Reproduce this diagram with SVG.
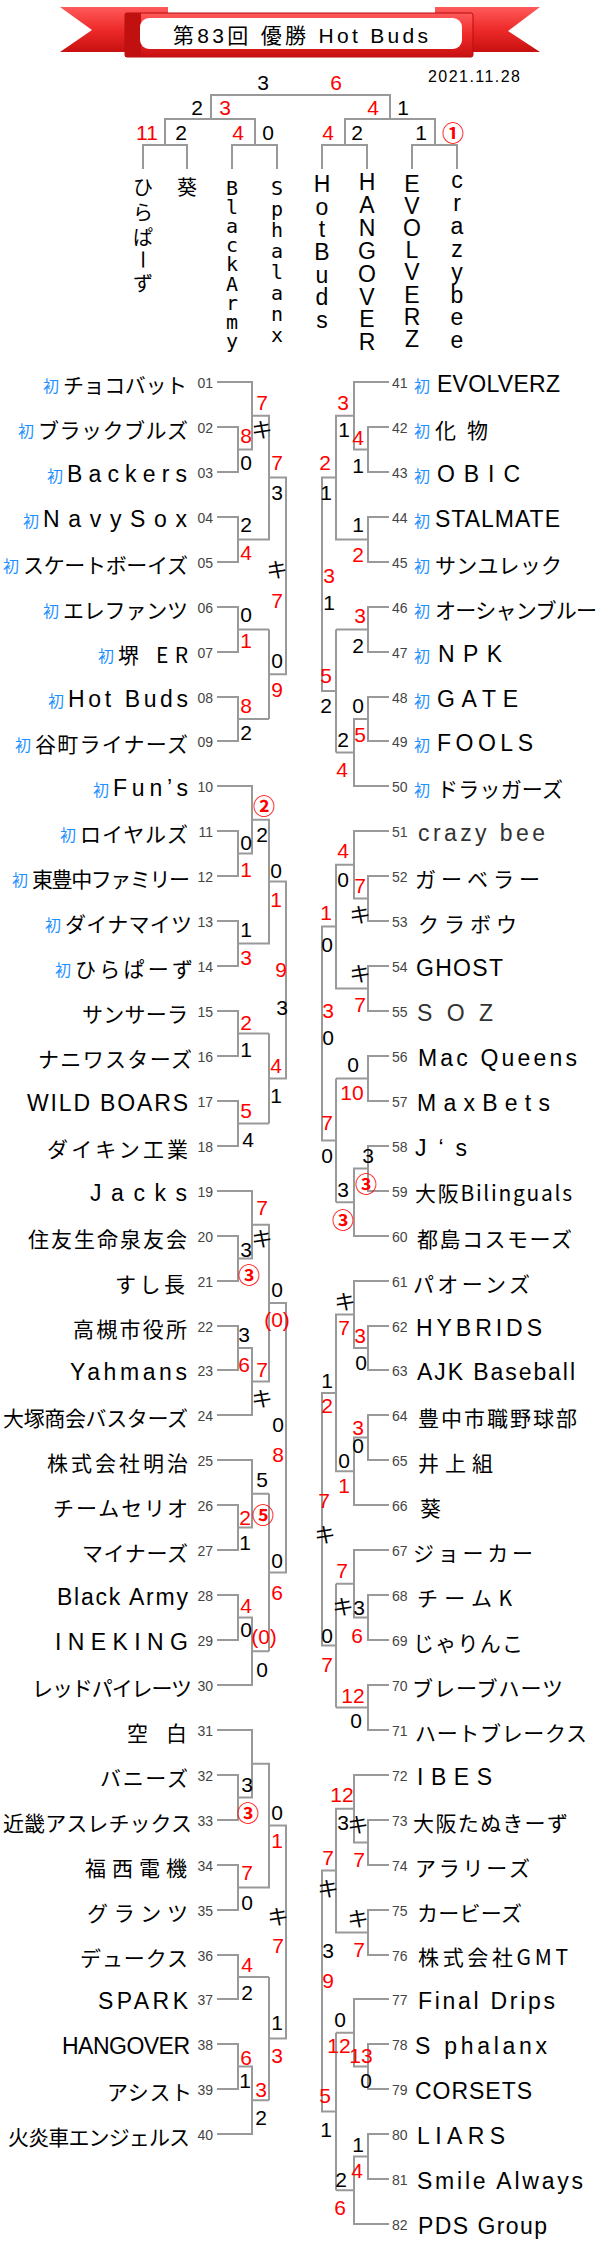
<svg xmlns="http://www.w3.org/2000/svg" width="600" height="2250" viewBox="0 0 600 2250">
<defs>
<linearGradient id="rg" x1="0" y1="0" x2="0" y2="1">
<stop offset="0" stop-color="#ff5a5a"/><stop offset="0.5" stop-color="#ee2a2a"/><stop offset="1" stop-color="#c81010"/>
</linearGradient>
<style>
.ln{fill:none;stroke:#999;stroke-width:2}
.s{font-family:"Liberation Sans","Noto Sans CJK JP",sans-serif;font-size:21px;text-anchor:middle}
.r{fill:#f00}
.k{fill:#000}
.ci{font-family:"Noto Sans CJK JP",sans-serif;font-size:22px;font-weight:700}
.no{font-family:"Liberation Sans",sans-serif;font-size:14px;fill:#444}
.nl{text-anchor:end}
.sh{font-family:"Noto Sans CJK JP",sans-serif;font-size:16px;fill:#1e90ff}
.shl{text-anchor:end}
.c{font-family:"Noto Sans CJK JP","Liberation Sans",sans-serif;font-size:21px;fill:#000}
.a{font-family:"Liberation Sans","Noto Sans CJK JP",sans-serif;font-size:23px;fill:#000}
.g{fill:#333}
.vn{font-family:"Liberation Sans","Noto Sans CJK JP",sans-serif;font-size:23px;text-anchor:middle;fill:#000}
.vm{font-family:"DejaVu Sans Mono","Liberation Mono",monospace;font-size:20px;text-anchor:middle;fill:#000}
.vc{font-family:"Noto Sans CJK JP",sans-serif;font-size:20px;fill:#000}
</style>
</defs>
<rect width="600" height="2250" fill="#fff"/>
<g id="header">
<polygon points="60,7 168,7 168,52 60,52 92,30" fill="url(#rg)"/>
<polygon points="435,7 540,7 508,31 540,52 435,52" fill="url(#rg)"/>
<rect x="125" y="13" width="348" height="44" rx="2" fill="url(#rg)" stroke="#b80e0e" stroke-width="1"/>
<rect x="125" y="13" width="16" height="44" fill="#c01010"/>
<rect x="140" y="18" width="322" height="31" rx="9" fill="#fff"/>
<text x="173" y="43" font-family="Liberation Sans,Noto Sans CJK JP,sans-serif" font-size="21" textLength="255" lengthAdjust="spacing" fill="#000">第83回 優勝 Hot Buds</text>
<text x="428" y="82" font-family="Liberation Sans,sans-serif" font-size="16" textLength="92" lengthAdjust="spacing" fill="#000">2021.11.28</text>
</g>
<g id="connectors" class="ln">
<path d="M211 119V95H390V119M165 145V119H255V145M345 145V119H435V145M143 169V145H187V169M232 169V145H277V169M322 169V145H367V169M412 169V145H457V169"/>
<path d="M217 382H252V449.5H238M217 427H238V472H217M252 415.75H269V539.5H238M217 517H238V562H217M269 477.6H286V674.25H269M269 629.5V719M217 607H238V652H217M238 629.5H269M217 697H238V741H217M238 719H269"/>
<path d="M217 786H252V853.5H238M217 831H238V876H217M252 819.75H269V943.5H238M217 921H238V966H217M269 881.6H286V1078.5H269M269 1033.5V1123.5M217 1011H238V1056H217M238 1033.5H269M217 1101H238V1146H217M238 1123.5H269"/>
<path d="M217 1191H252V1258.5H238M217 1236H238V1281H217M252 1224.75H269V1381.5H252M217 1326H238V1370H217M238 1348H252V1415H217M269 1303.1H286V1572.5H269M269 1493.75V1651.25M217 1460H252V1527.5H238M217 1505H238V1550H217M252 1493.75H269M217 1595H238V1640H217M238 1617.5H252V1685H217M252 1651.25H269"/>
<path d="M217 1730H252V1797.5H238M217 1775H238V1820H217M252 1763.75H269V1887.5H238M217 1865H238V1910H217M269 1825.6H286V2038.6H269M269 1977V2100.25M217 1955H238V1999H217M238 1977H269M217 2044H238V2089H217M238 2066.5H252V2134H217M252 2100.25H269"/>
<path d="M389 382H354V449.5H368M389 427H368V472H389M354 415.75H336V539.5H368M389 517H368V562H389M336 477.6H322V691H336M336 629.5V752.5M389 607H368V652H389M368 629.5H336M389 697H368V741H389M368 719H354V786H389M354 752.5H336"/>
<path d="M389 831H354V898.5H368M389 876H368V921H389M354 864.75H336V988.5H368M389 966H368V1011H389M336 926.6H322V1140.4H336M336 1078.5V1202.25M389 1056H368V1101H389M368 1078.5H336M389 1146H368V1191H389M368 1168.5H354V1236H389M354 1202.25H336"/>
<path d="M389 1281H354V1348H368M389 1326H368V1370H389M354 1314.5H336V1471.25H354M389 1415H368V1460H389M368 1437.5H354V1505H389M336 1392.9H322V1645.6H336M336 1583.75V1707.5M389 1550H354V1617.5H368M389 1595H368V1640H389M354 1583.75H336M389 1685H368V1730H389M368 1707.5H336"/>
<path d="M389 1775H354V1842.5H368M389 1820H368V1865H389M354 1808.75H336V1932.5H368M389 1910H368V1955H389M336 1870.6H322V2111.5H336M336 2032.75V2190.25M389 1999H354V2066.5H368M389 2044H368V2089H389M354 2032.75H336M389 2134H368V2179H389M368 2156.5H354V2224H389M354 2190.25H336"/>
</g>
<g id="scores" class="s">
<text class="k" x="263" y="90">3</text><text class="r" x="336" y="90">6</text>
<text class="k" x="197" y="115">2</text><text class="r" x="225" y="115">3</text>
<text class="r" x="373" y="115">4</text><text class="k" x="403" y="115">1</text>
<text class="r" x="147" y="140">11</text><text class="k" x="181" y="140">2</text>
<text class="r" x="238" y="140">4</text><text class="k" x="268" y="140">0</text>
<text class="r" x="328" y="140">4</text><text class="k" x="357" y="140">2</text>
<text class="k" x="421" y="140">1</text><text class="r ci" x="453" y="141">①</text>

<text class="r" x="246" y="443">8</text><text class="k" x="246" y="470">0</text>
<text class="r" x="262" y="410">7</text><text class="k" x="262" y="437">キ</text>
<text class="k" x="246" y="532">2</text><text class="r" x="246" y="560">4</text>
<text class="r" x="277" y="470">7</text><text class="k" x="277" y="500">3</text>
<text class="k" x="246" y="622">0</text><text class="r" x="246" y="648">1</text>
<text class="r" x="246" y="713">8</text><text class="k" x="246" y="740">2</text>
<text class="k" x="277" y="668">0</text><text class="r" x="277" y="697">9</text>
<text class="k" x="277" y="577">キ</text><text class="r" x="277" y="608">7</text>

<text class="k" x="246" y="850">0</text><text class="r" x="246" y="877">1</text>
<text class="r ci" x="264" y="814">②</text><text class="k" x="262" y="842">2</text>
<text class="k" x="246" y="937">1</text><text class="r" x="246" y="965">3</text>
<text class="k" x="276" y="878">0</text><text class="r" x="276" y="907">1</text>
<text class="r" x="246" y="1030">2</text><text class="k" x="246" y="1057">1</text>
<text class="r" x="246" y="1118">5</text><text class="k" x="248" y="1147">4</text>
<text class="r" x="276" y="1073">4</text><text class="k" x="276" y="1103">1</text>
<text class="r" x="281" y="977">9</text><text class="k" x="282" y="1015">3</text>

<text class="k" x="246" y="1257">3</text><text class="r ci" x="249" y="1283">③</text>
<text class="r" x="262" y="1215">7</text><text class="k" x="262" y="1246">キ</text>
<text class="k" x="244" y="1342">3</text><text class="r" x="244" y="1372">6</text>
<text class="r" x="262" y="1377">7</text><text class="k" x="262" y="1406">キ</text>
<text class="k" x="277" y="1297">0</text><text class="r" x="277" y="1327">(0)</text>
<text class="r" x="245" y="1525">2</text><text class="k" x="245" y="1550">1</text>
<text class="k" x="262" y="1487">5</text><text class="r ci" x="263" y="1523">⑤</text>
<text class="r" x="246" y="1613">4</text><text class="k" x="246" y="1637">0</text>
<text class="r" x="264" y="1644">(0)</text><text class="k" x="262" y="1677">0</text>
<text class="k" x="277" y="1568">0</text><text class="r" x="277" y="1600">6</text>
<text class="k" x="278" y="1432">0</text><text class="r" x="278" y="1462">8</text>

<text class="k" x="247" y="1792">3</text><text class="r ci" x="248" y="1821">③</text>
<text class="r" x="247" y="1880">7</text><text class="k" x="247" y="1910">0</text>
<text class="k" x="277" y="1820">0</text><text class="r" x="277" y="1848">1</text>
<text class="r" x="247" y="1972">4</text><text class="k" x="247" y="2000">2</text>
<text class="r" x="246" y="2065">6</text><text class="k" x="245" y="2088">1</text>
<text class="r" x="261" y="2097">3</text><text class="k" x="261" y="2125">2</text>
<text class="k" x="277" y="2030">1</text><text class="r" x="277" y="2063">3</text>
<text class="k" x="278" y="1924">キ</text><text class="r" x="278" y="1953">7</text>

<text class="r" x="358" y="445">4</text><text class="k" x="358" y="473">1</text>
<text class="r" x="343" y="410">3</text><text class="k" x="344" y="437">1</text>
<text class="k" x="358" y="532">1</text><text class="r" x="358" y="562">2</text>
<text class="r" x="325" y="470">2</text><text class="k" x="326" y="500">1</text>
<text class="r" x="360" y="623">3</text><text class="k" x="358" y="653">2</text>
<text class="k" x="358" y="713">0</text><text class="r" x="360" y="742">5</text>
<text class="k" x="343" y="747">2</text><text class="r" x="342" y="777">4</text>
<text class="r" x="326" y="683">5</text><text class="k" x="326" y="713">2</text>
<text class="r" x="329" y="583">3</text><text class="k" x="329" y="610">1</text>

<text class="r" x="360" y="893">7</text><text class="k" x="360" y="922">キ</text>
<text class="r" x="343" y="858">4</text><text class="k" x="343" y="887">0</text>
<text class="k" x="360" y="981">キ</text><text class="r" x="360" y="1012">7</text>
<text class="r" x="326" y="920">1</text><text class="k" x="327" y="952">0</text>
<text class="k" x="353" y="1072">0</text><text class="r" x="352" y="1100">10</text>
<text class="k" x="368" y="1163">3</text><text class="r ci" x="366" y="1192">③</text>
<text class="k" x="343" y="1197">3</text><text class="r ci" x="343" y="1228">③</text>
<text class="r" x="327" y="1130">7</text><text class="k" x="327" y="1163">0</text>
<text class="r" x="328" y="1018">3</text><text class="k" x="328" y="1045">0</text>

<text class="r" x="360" y="1343">3</text><text class="k" x="361" y="1370">0</text>
<text class="k" x="345" y="1309">キ</text><text class="r" x="344" y="1335">7</text>
<text class="r" x="358" y="1435">3</text><text class="k" x="358" y="1453">0</text>
<text class="k" x="344" y="1468">0</text><text class="r" x="344" y="1493">1</text>
<text class="k" x="327" y="1388">1</text><text class="r" x="327" y="1413">2</text>
<text class="k" x="359" y="1615">3</text><text class="r" x="357" y="1643">6</text>
<text class="r" x="342" y="1578">7</text><text class="k" x="343" y="1614">キ</text>
<text class="r" x="353" y="1703">12</text><text class="k" x="356" y="1728">0</text>
<text class="k" x="327" y="1643">0</text><text class="r" x="327" y="1672">7</text>
<text class="r" x="324" y="1508">7</text><text class="k" x="325" y="1542">キ</text>

<text class="k" x="358" y="1832">キ</text><text class="r" x="359" y="1867">7</text>
<text class="r" x="342" y="1802">12</text><text class="k" x="343" y="1830">3</text>
<text class="k" x="358" y="1926">キ</text><text class="r" x="359" y="1957">7</text>
<text class="r" x="328" y="1865">7</text><text class="k" x="328" y="1896">キ</text>
<text class="r" x="361" y="2063">13</text><text class="k" x="366" y="2088">0</text>
<text class="k" x="340" y="2027">0</text><text class="r" x="339" y="2053">12</text>
<text class="k" x="358" y="2152">1</text><text class="r" x="357" y="2178">4</text>
<text class="k" x="341" y="2187">2</text><text class="r" x="340" y="2215">6</text>
<text class="r" x="325" y="2103">5</text><text class="k" x="326" y="2137">1</text>
<text class="k" x="328" y="1958">3</text><text class="r" x="328" y="1988">9</text>
</g>
<g id="f-hirapa"><text class="vc"><tspan x="133" y="195">ひ</tspan><tspan x="133" y="220">ら</tspan><tspan x="133" y="245">ぱ</tspan><tspan x="135.4" y="249.5" rotate="90">ー</tspan><tspan x="133" y="291">ず</tspan></text></g>
<g id="f-aoi"><text class="vc" x="187" y="195" text-anchor="middle">葵</text></g>
<g id="f-blackarmy"><text class="vm" x="232"><tspan x="232" y="195">B</tspan><tspan x="232" y="214">l</tspan><tspan x="232" y="233">a</tspan><tspan x="232" y="252">c</tspan><tspan x="232" y="271">k</tspan><tspan x="232" y="291">A</tspan><tspan x="232" y="310">r</tspan><tspan x="232" y="329">m</tspan><tspan x="232" y="348">y</tspan></text></g>
<g id="f-sphalanx"><text class="vm" x="277"><tspan x="277" y="195">S</tspan><tspan x="277" y="216">p</tspan><tspan x="277" y="237">h</tspan><tspan x="277" y="258">a</tspan><tspan x="277" y="279">l</tspan><tspan x="277" y="300">a</tspan><tspan x="277" y="321">n</tspan><tspan x="277" y="342">x</tspan></text></g>
<g id="f-hotbuds"><text class="vn" x="322"><tspan x="322" y="192">H</tspan><tspan x="322" y="215">o</tspan><tspan x="322" y="237">t</tspan><tspan x="322" y="260">B</tspan><tspan x="322" y="283">u</tspan><tspan x="322" y="305">d</tspan><tspan x="322" y="328">s</tspan></text></g>
<g id="f-hangover"><text class="vn" x="367"><tspan x="367" y="190">H</tspan><tspan x="367" y="213">A</tspan><tspan x="367" y="236">N</tspan><tspan x="367" y="259">G</tspan><tspan x="367" y="282">O</tspan><tspan x="367" y="305">V</tspan><tspan x="367" y="327">E</tspan><tspan x="367" y="350">R</tspan></text></g>
<g id="f-evolverz"><text class="vn" x="412"><tspan x="412" y="192">E</tspan><tspan x="412" y="214">V</tspan><tspan x="412" y="236">O</tspan><tspan x="412" y="258">L</tspan><tspan x="412" y="280">V</tspan><tspan x="412" y="303">E</tspan><tspan x="412" y="325">R</tspan><tspan x="412" y="347">Z</tspan></text></g>
<g id="f-crazybee"><text class="vn g" x="457"><tspan x="457" y="188">c</tspan><tspan x="457" y="211">r</tspan><tspan x="457" y="234">a</tspan><tspan x="457" y="257">z</tspan><tspan x="457" y="280">y</tspan><tspan x="457" y="303">b</tspan><tspan x="457" y="325">e</tspan><tspan x="457" y="348">e</tspan></text></g>

<g id="t01"><text class="no nl" x="213" y="388">01</text><text class="sh shl" x="59" y="392">初</text><text class="c" x="63" y="393" textLength="124" lengthAdjust="spacing">チョコバット</text></g>
<g id="t02"><text class="no nl" x="213" y="433">02</text><text class="sh shl" x="34" y="437">初</text><text class="c" x="38" y="438" textLength="150" lengthAdjust="spacing">ブラックブルズ</text></g>
<g id="t03"><text class="no nl" x="213" y="478">03</text><text class="sh shl" x="63" y="482">初</text><text class="a" x="67" y="482" textLength="120" lengthAdjust="spacing">Backers</text></g>
<g id="t04"><text class="no nl" x="213" y="523">04</text><text class="sh shl" x="39" y="527">初</text><text class="a" x="43" y="527" textLength="144" lengthAdjust="spacing">NavySox</text></g>
<g id="t05"><text class="no nl" x="213" y="568">05</text><text class="sh shl" x="19" y="572">初</text><text class="c" x="23" y="573" textLength="165" lengthAdjust="spacing">スケートボーイズ</text></g>
<g id="t06"><text class="no nl" x="213" y="613">06</text><text class="sh shl" x="59" y="617">初</text><text class="c" x="63" y="618" textLength="125" lengthAdjust="spacing">エレファンツ</text></g>
<g id="t07"><text class="no nl" x="213" y="658">07</text><text class="sh shl" x="114" y="662">初</text><text class="c" x="118" y="663" textLength="70" lengthAdjust="spacing">堺 ER</text></g>
<g id="t08"><text class="no nl" x="213" y="703">08</text><text class="sh shl" x="64" y="707">初</text><text class="a" x="68" y="707" textLength="120" lengthAdjust="spacing">Hot Buds</text></g>
<g id="t09"><text class="no nl" x="213" y="747">09</text><text class="sh shl" x="31" y="751">初</text><text class="c" x="35" y="752" textLength="153" lengthAdjust="spacing">谷町ライナーズ</text></g>
<g id="t10"><text class="no nl" x="213" y="792">10</text><text class="sh shl" x="109" y="796">初</text><text class="a" x="113" y="796" textLength="75" lengthAdjust="spacing">Fun’s</text></g>
<g id="t11"><text class="no nl" x="213" y="837">11</text><text class="sh shl" x="76" y="841">初</text><text class="c" x="80" y="842" textLength="108" lengthAdjust="spacing">ロイヤルズ</text></g>
<g id="t12"><text class="no nl" x="213" y="882">12</text><text class="sh shl" x="28" y="886">初</text><text class="c" x="32" y="887" textLength="158" lengthAdjust="spacing">東豊中ファミリー</text></g>
<g id="t13"><text class="no nl" x="213" y="927">13</text><text class="sh shl" x="61" y="931">初</text><text class="c" x="65" y="932" textLength="127" lengthAdjust="spacing">ダイナマイツ</text></g>
<g id="t14"><text class="no nl" x="213" y="972">14</text><text class="sh shl" x="71" y="976">初</text><text class="c" x="75" y="977" textLength="118" lengthAdjust="spacing">ひらぱーず</text></g>
<g id="t15"><text class="no nl" x="213" y="1017">15</text><text class="c" x="82" y="1022" textLength="106" lengthAdjust="spacing">サンサーラ</text></g>
<g id="t16"><text class="no nl" x="213" y="1062">16</text><text class="c" x="38" y="1067" textLength="154" lengthAdjust="spacing">ナニワスターズ</text></g>
<g id="t17"><text class="no nl" x="213" y="1107">17</text><text class="a" x="27" y="1111" textLength="161" lengthAdjust="spacing">WILD BOARS</text></g>
<g id="t18"><text class="no nl" x="213" y="1152">18</text><text class="c" x="47" y="1157" textLength="141" lengthAdjust="spacing">ダイキン工業</text></g>
<g id="t19"><text class="no nl" x="213" y="1197">19</text><text class="a" x="90" y="1201" textLength="97" lengthAdjust="spacing">Jacks</text></g>
<g id="t20"><text class="no nl" x="213" y="1242">20</text><text class="c" x="28" y="1247" textLength="159" lengthAdjust="spacing">住友生命泉友会</text></g>
<g id="t21"><text class="no nl" x="213" y="1287">21</text><text class="c" x="115" y="1292" textLength="70" lengthAdjust="spacing">すし長</text></g>
<g id="t22"><text class="no nl" x="213" y="1332">22</text><text class="c" x="73" y="1337" textLength="114" lengthAdjust="spacing">高槻市役所</text></g>
<g id="t23"><text class="no nl" x="213" y="1376">23</text><text class="a" x="70" y="1380" textLength="117" lengthAdjust="spacing">Yahmans</text></g>
<g id="t24"><text class="no nl" x="213" y="1421">24</text><text class="c" x="3" y="1426" textLength="185" lengthAdjust="spacing">大塚商会バスターズ</text></g>
<g id="t25"><text class="no nl" x="213" y="1466">25</text><text class="c" x="47" y="1471" textLength="141" lengthAdjust="spacing">株式会社明治</text></g>
<g id="t26"><text class="no nl" x="213" y="1511">26</text><text class="c" x="53" y="1516" textLength="135" lengthAdjust="spacing">チームセリオ</text></g>
<g id="t27"><text class="no nl" x="213" y="1556">27</text><text class="c" x="82" y="1561" textLength="106" lengthAdjust="spacing">マイナーズ</text></g>
<g id="t28"><text class="no nl" x="213" y="1601">28</text><text class="a" x="57" y="1605" textLength="131" lengthAdjust="spacing">Black Army</text></g>
<g id="t29"><text class="no nl" x="213" y="1646">29</text><text class="a" x="55" y="1650" textLength="133" lengthAdjust="spacing">INEKING</text></g>
<g id="t30"><text class="no nl" x="213" y="1691">30</text><text class="c" x="32" y="1696" textLength="160" lengthAdjust="spacing">レッドパイレーツ</text></g>
<g id="t31"><text class="no nl" x="213" y="1736">31</text><text class="c" x="127" y="1741" textLength="60" lengthAdjust="spacing">空 白</text></g>
<g id="t32"><text class="no nl" x="213" y="1781">32</text><text class="c" x="100" y="1786" textLength="88" lengthAdjust="spacing">バニーズ</text></g>
<g id="t33"><text class="no nl" x="213" y="1826">33</text><text class="c" x="3" y="1831" textLength="189" lengthAdjust="spacing">近畿アスレチックス</text></g>
<g id="t34"><text class="no nl" x="213" y="1871">34</text><text class="c" x="85" y="1876" textLength="102" lengthAdjust="spacing">福西電機</text></g>
<g id="t35"><text class="no nl" x="213" y="1916">35</text><text class="c" x="87" y="1921" textLength="101" lengthAdjust="spacing">グランツ</text></g>
<g id="t36"><text class="no nl" x="213" y="1961">36</text><text class="c" x="80" y="1966" textLength="108" lengthAdjust="spacing">デュークス</text></g>
<g id="t37"><text class="no nl" x="213" y="2005">37</text><text class="a" x="98" y="2009" textLength="90" lengthAdjust="spacing">SPARK</text></g>
<g id="t38"><text class="no nl" x="213" y="2050">38</text><text class="a" x="62" y="2054" textLength="128" lengthAdjust="spacing">HANGOVER</text></g>
<g id="t39"><text class="no nl" x="213" y="2095">39</text><text class="c" x="107" y="2100" textLength="85" lengthAdjust="spacing">アシスト</text></g>
<g id="t40"><text class="no nl" x="213" y="2140">40</text><text class="c" x="8" y="2145" textLength="182" lengthAdjust="spacing">火炎車エンジェルス</text></g>

<g id="t41"><text class="no" x="392" y="388">41</text><text class="sh" x="414" y="392">初</text><text class="a" x="437" y="392" textLength="123" lengthAdjust="spacing">EVOLVERZ</text></g>
<g id="t42"><text class="no" x="392" y="433">42</text><text class="sh" x="414" y="437">初</text><text class="c" x="435" y="438" textLength="53" lengthAdjust="spacing">化 物</text></g>
<g id="t43"><text class="no" x="392" y="478">43</text><text class="sh" x="414" y="482">初</text><text class="a" x="437" y="482" textLength="83" lengthAdjust="spacing">OBIC</text></g>
<g id="t44"><text class="no" x="392" y="523">44</text><text class="sh" x="414" y="527">初</text><text class="a" x="435" y="527" textLength="125" lengthAdjust="spacing">STALMATE</text></g>
<g id="t45"><text class="no" x="392" y="568">45</text><text class="sh" x="414" y="572">初</text><text class="c" x="435" y="573" textLength="127" lengthAdjust="spacing">サンユレック</text></g>
<g id="t46"><text class="no" x="392" y="613">46</text><text class="sh" x="414" y="617">初</text><text class="c" x="435" y="618" textLength="162" lengthAdjust="spacing">オーシャンブルー</text></g>
<g id="t47"><text class="no" x="392" y="658">47</text><text class="sh" x="414" y="662">初</text><text class="a" x="438" y="662" textLength="64" lengthAdjust="spacing">NPK</text></g>
<g id="t48"><text class="no" x="392" y="703">48</text><text class="sh" x="414" y="707">初</text><text class="a" x="437" y="707" textLength="81" lengthAdjust="spacing">GATE</text></g>
<g id="t49"><text class="no" x="392" y="747">49</text><text class="sh" x="414" y="751">初</text><text class="a" x="437" y="751" textLength="96" lengthAdjust="spacing">FOOLS</text></g>
<g id="t50"><text class="no" x="392" y="792">50</text><text class="sh" x="414" y="796">初</text><text class="c" x="437" y="797" textLength="126" lengthAdjust="spacing">ドラッガーズ</text></g>
<g id="t51"><text class="no" x="392" y="837">51</text><text class="a g" x="418" y="841" textLength="127" lengthAdjust="spacing">crazy bee</text></g>
<g id="t52"><text class="no" x="392" y="882">52</text><text class="c" x="415" y="887" textLength="125" lengthAdjust="spacing">ガーベラー</text></g>
<g id="t53"><text class="no" x="392" y="927">53</text><text class="c" x="418" y="932" textLength="99" lengthAdjust="spacing">クラボウ</text></g>
<g id="t54"><text class="no" x="392" y="972">54</text><text class="a" x="416" y="976" textLength="87" lengthAdjust="spacing">GHOST</text></g>
<g id="t55"><text class="no" x="392" y="1017">55</text><text class="a g" x="417" y="1021" textLength="76" lengthAdjust="spacing">SOZ</text></g>
<g id="t56"><text class="no" x="392" y="1062">56</text><text class="a" x="418" y="1066" textLength="159" lengthAdjust="spacing">Mac Queens</text></g>
<g id="t57"><text class="no" x="392" y="1107">57</text><text class="a" x="417" y="1111" textLength="133" lengthAdjust="spacing">MaxBets</text></g>
<g id="t58"><text class="no" x="392" y="1152">58</text><text class="a" x="415" y="1156" textLength="52" lengthAdjust="spacing">J‘s</text></g>
<g id="t59"><text class="no" x="392" y="1197">59</text><text class="c" x="415" y="1201" textLength="157" lengthAdjust="spacing">大阪Bilinguals</text></g>
<g id="t60"><text class="no" x="392" y="1242">60</text><text class="c" x="417" y="1247" textLength="155" lengthAdjust="spacing">都島コスモーズ</text></g>
<g id="t61"><text class="no" x="392" y="1287">61</text><text class="c" x="413" y="1292" textLength="117" lengthAdjust="spacing">パオーンズ</text></g>
<g id="t62"><text class="no" x="392" y="1332">62</text><text class="a" x="416" y="1336" textLength="126" lengthAdjust="spacing">HYBRIDS</text></g>
<g id="t63"><text class="no" x="392" y="1376">63</text><text class="a" x="417" y="1380" textLength="158" lengthAdjust="spacing">AJK Baseball</text></g>
<g id="t64"><text class="no" x="392" y="1421">64</text><text class="c" x="418" y="1426" textLength="159" lengthAdjust="spacing">豊中市職野球部</text></g>
<g id="t65"><text class="no" x="392" y="1466">65</text><text class="c" x="418" y="1471" textLength="75" lengthAdjust="spacing">井 上 組</text></g>
<g id="t66"><text class="no" x="392" y="1511">66</text><text class="c" x="420" y="1516">葵</text></g>
<g id="t67"><text class="no" x="392" y="1556">67</text><text class="c" x="413" y="1561" textLength="120" lengthAdjust="spacing">ジョーカー</text></g>
<g id="t68"><text class="no" x="392" y="1601">68</text><text class="c" x="417" y="1606" textLength="95" lengthAdjust="spacing">チームK</text></g>
<g id="t69"><text class="no" x="392" y="1646">69</text><text class="c" x="413" y="1651" textLength="110" lengthAdjust="spacing">じゃりんこ</text></g>
<g id="t70"><text class="no" x="392" y="1691">70</text><text class="c" x="412" y="1696" textLength="151" lengthAdjust="spacing">ブレーブハーツ</text></g>
<g id="t71"><text class="no" x="392" y="1736">71</text><text class="c" x="415" y="1741" textLength="172" lengthAdjust="spacing">ハートブレークス</text></g>
<g id="t72"><text class="no" x="392" y="1781">72</text><text class="a" x="417" y="1785" textLength="75" lengthAdjust="spacing">IBES</text></g>
<g id="t73"><text class="no" x="392" y="1826">73</text><text class="c" x="413" y="1831" textLength="155" lengthAdjust="spacing">大阪たぬきーず</text></g>
<g id="t74"><text class="no" x="392" y="1871">74</text><text class="c" x="415" y="1876" textLength="115" lengthAdjust="spacing">アラリーズ</text></g>
<g id="t75"><text class="no" x="392" y="1916">75</text><text class="c" x="417" y="1921" textLength="105" lengthAdjust="spacing">カービーズ</text></g>
<g id="t76"><text class="no" x="392" y="1961">76</text><text class="c" x="418" y="1965" textLength="150" lengthAdjust="spacing">株式会社GMT</text></g>
<g id="t77"><text class="no" x="392" y="2005">77</text><text class="a" x="418" y="2009" textLength="137" lengthAdjust="spacing">Final Drips</text></g>
<g id="t78"><text class="no" x="392" y="2050">78</text><text class="a" x="415" y="2054" textLength="132" lengthAdjust="spacing">S phalanx</text></g>
<g id="t79"><text class="no" x="392" y="2095">79</text><text class="a" x="415" y="2099" textLength="117" lengthAdjust="spacing">CORSETS</text></g>
<g id="t80"><text class="no" x="392" y="2140">80</text><text class="a" x="417" y="2144" textLength="88" lengthAdjust="spacing">LIARS</text></g>
<g id="t81"><text class="no" x="392" y="2185">81</text><text class="a" x="417" y="2189" textLength="166" lengthAdjust="spacing">Smile Always</text></g>
<g id="t82"><text class="no" x="392" y="2230">82</text><text class="a" x="418" y="2234" textLength="129" lengthAdjust="spacing">PDS Group</text></g>
</svg>
